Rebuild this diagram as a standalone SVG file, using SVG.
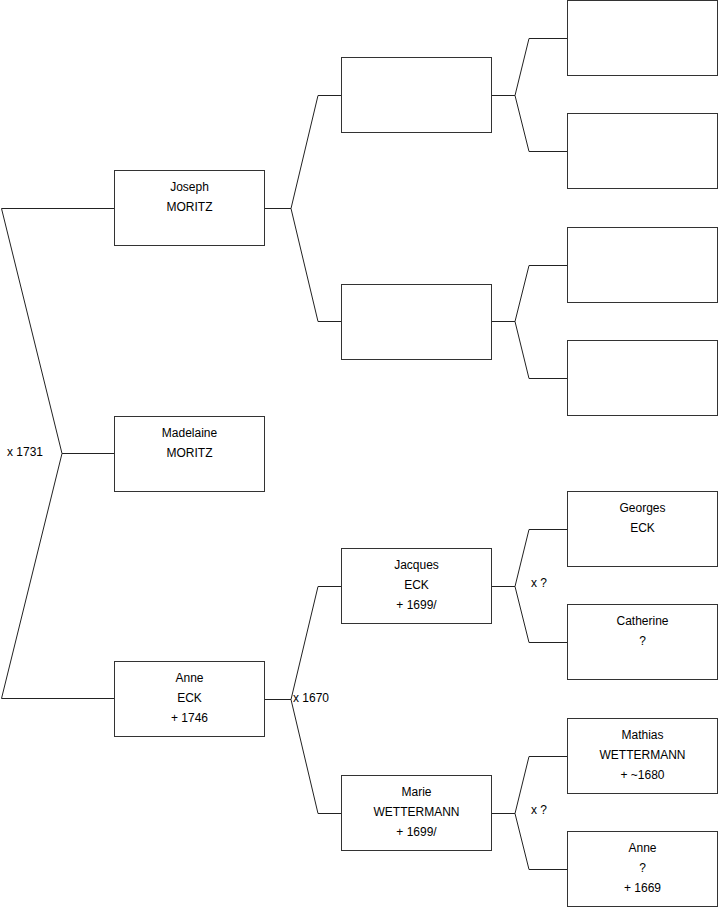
<svg xmlns="http://www.w3.org/2000/svg" width="719" height="908" viewBox="0 0 719 908">
<style>
.box{fill:#fff;stroke:#333;stroke-width:1}
.c{fill:none;stroke:#222;stroke-width:1}
text{font-family:"Liberation Sans",Arial,sans-serif;font-size:12px;fill:#000}
.n{text-anchor:middle}
</style>
<rect width="719" height="908" fill="#fff"/>
<g id="connectors">
<path class="c" d="M114,208.5H1.5L62,453.5L1.5,698.5H114M62,453.5H114"/>
<path class="c" d="M265,208.5H291L318,95.5H341M291,208.5L318,321.5H341"/>
<path class="c" d="M265,699.5H291L318,586.5H341M291,699.5L318,813.5H341"/>
<path class="c" d="M492,95.5H515L529,38.5H567M515,95.5L529,151.5H567"/>
<path class="c" d="M492,321.5H515L529,265.5H567M515,321.5L529,378.5H567"/>
<path class="c" d="M492,586.5H515L529,529.5H567M515,586.5L529,642.5H567"/>
<path class="c" d="M492,813.5H515L529,756.5H567M515,813.5L529,869.5H567"/>
<text x="7" y="456">x 1731</text>
<text x="293" y="702">x 1670</text>
<text x="531" y="587">x ?</text>
<text x="531" y="814">x ?</text>
</g>
<g id="joseph"><rect class="box" x="114.5" y="170.5" width="150" height="75"/><text class="n" x="189.5" y="191">Joseph</text><text class="n" x="189.5" y="211">MORITZ</text></g>
<g id="madelaine"><rect class="box" x="114.5" y="416.5" width="150" height="75"/><text class="n" x="189.5" y="437">Madelaine</text><text class="n" x="189.5" y="457">MORITZ</text></g>
<g id="anne"><rect class="box" x="114.5" y="661.5" width="150" height="75"/><text class="n" x="189.5" y="682">Anne</text><text class="n" x="189.5" y="702">ECK</text><text class="n" x="189.5" y="722">+ 1746</text></g>
<g id="p1"><rect class="box" x="341.5" y="57.5" width="150" height="75"/></g>
<g id="p2"><rect class="box" x="341.5" y="284.5" width="150" height="75"/></g>
<g id="jacques"><rect class="box" x="341.5" y="548.5" width="150" height="75"/><text class="n" x="416.5" y="569">Jacques</text><text class="n" x="416.5" y="589">ECK</text><text class="n" x="416.5" y="609">+ 1699/</text></g>
<g id="marie"><rect class="box" x="341.5" y="775.5" width="150" height="75"/><text class="n" x="416.5" y="796">Marie</text><text class="n" x="416.5" y="816">WETTERMANN</text><text class="n" x="416.5" y="836">+ 1699/</text></g>
<g id="g1"><rect class="box" x="567.5" y="0.5" width="150" height="75"/></g>
<g id="g2"><rect class="box" x="567.5" y="113.5" width="150" height="75"/></g>
<g id="g3"><rect class="box" x="567.5" y="227.5" width="150" height="75"/></g>
<g id="g4"><rect class="box" x="567.5" y="340.5" width="150" height="75"/></g>
<g id="georges"><rect class="box" x="567.5" y="491.5" width="150" height="75"/><text class="n" x="642.5" y="512">Georges</text><text class="n" x="642.5" y="532">ECK</text></g>
<g id="catherine"><rect class="box" x="567.5" y="604.5" width="150" height="75"/><text class="n" x="642.5" y="625">Catherine</text><text class="n" x="642.5" y="645">?</text></g>
<g id="mathias"><rect class="box" x="567.5" y="718.5" width="150" height="75"/><text class="n" x="642.5" y="739">Mathias</text><text class="n" x="642.5" y="759">WETTERMANN</text><text class="n" x="642.5" y="779">+ ~1680</text></g>
<g id="anne2"><rect class="box" x="567.5" y="831.5" width="150" height="75"/><text class="n" x="642.5" y="852">Anne</text><text class="n" x="642.5" y="872">?</text><text class="n" x="642.5" y="892">+ 1669</text></g>
</svg>
